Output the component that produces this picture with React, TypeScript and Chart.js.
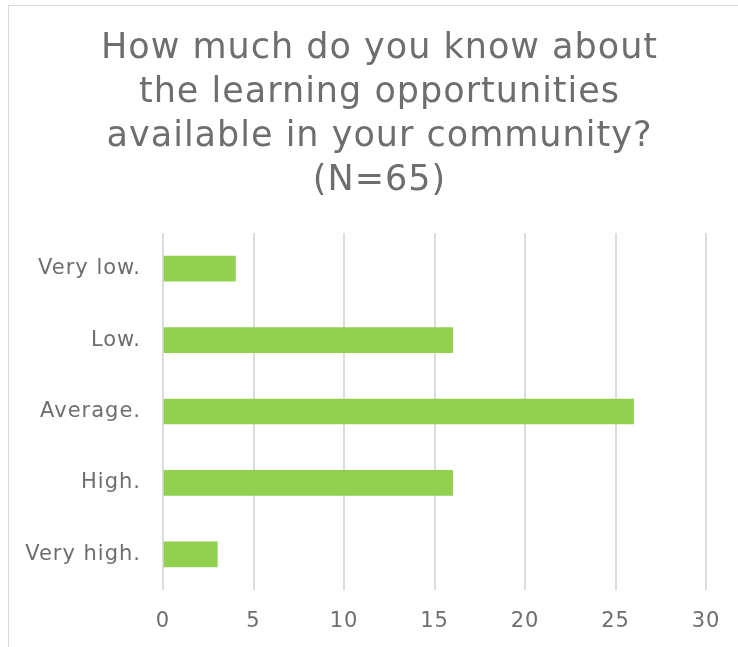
import React, { useEffect, useRef } from "react";
import { Chart, registerables } from "chart.js";

Chart.register(...registerables);

const categories = ["Very low.", "Low.", "Average.", "High.", "Very high."];
const counts = [4, 16, 26, 16, 3];
const titleLines = [
  "How much do you know about",
  "the learning opportunities",
  "available in your community?",
  "(N=65)",
];

const spacingPlugin = {
  id: "letterSpacing",
  afterLayout(chart: any) {
    if (chart.titleBlock) {
      chart.titleBlock.left = 0;
      chart.titleBlock.right = chart.width;
    }
  },
  beforeDraw(chart: any) {
    chart.ctx.letterSpacing = "1px";
  },
};

export default function App() {
  const ref = useRef<HTMLCanvasElement | null>(null);

  useEffect(() => {
    if (!ref.current) return;
    const chart = new Chart(ref.current, {
      type: "bar",
      data: {
        labels: categories,
        datasets: [
          {
            data: counts,
            backgroundColor: "#92D050",
            borderWidth: 0,
            barThickness: 25,
          },
        ],
      },
      plugins: [spacingPlugin],
      options: {
        indexAxis: "y",
        animation: false,
        responsive: false,
        maintainAspectRatio: false,
        layout: { padding: { left: 0, right: 44, top: 0, bottom: 14 } },
        plugins: {
          legend: { display: false },
          tooltip: { enabled: false },
          title: {
            display: true,
            text: titleLines,
            color: "#6e6e6e",
            font: { family: "DejaVu Sans", size: 35, weight: "normal", lineHeight: 1.257 },
            padding: { top: 21, bottom: 30 },
          },
        },
        scales: {
          x: {
            min: 0,
            max: 30,
            ticks: {
              stepSize: 5,
              color: "#6e6e6e",
              padding: 19,
              font: { family: "DejaVu Sans", size: 21 },
            },
            grid: { color: "#dcdcdc", lineWidth: 2, drawTicks: false },
            border: { display: false },
            afterFit: (scale: any) => {
              scale.height = 43;
            },
          },
          y: {
            ticks: {
              color: "#6e6e6e",
              padding: 22,
              font: { family: "DejaVu Sans", size: 21 },
            },
            grid: { display: false, drawTicks: false },
            border: { display: false },
            afterFit: (scale: any) => {
              scale.width = 154;
            },
          },
        },
      },
    });
    return () => chart.destroy();
  }, []);

  return (
    <div
      style={{
        position: "fixed",
        left: 0,
        top: 0,
        width: 738,
        height: 647,
        overflow: "hidden",
        background: "#fff",
      }}
    >
      <div
        style={{
          position: "absolute",
          left: 8,
          top: 5,
          width: 741,
          height: 660,
          border: "1px solid #d9d9d9",
          boxSizing: "content-box",
        }}
      >
        <canvas ref={ref} width={741} height={641} style={{ display: "block" }} />
      </div>
    </div>
  );
}
